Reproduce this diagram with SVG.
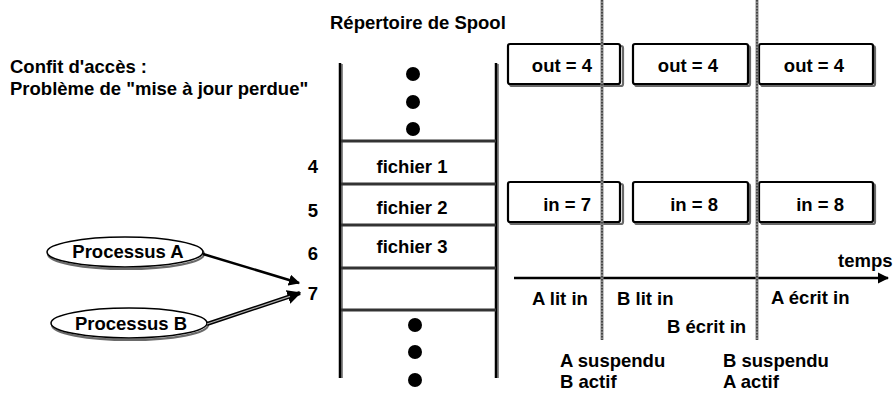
<svg xmlns="http://www.w3.org/2000/svg" width="895" height="394" viewBox="0 0 895 394">
  <style>
    text { font-family: "Liberation Sans", Arial, sans-serif; font-weight: bold; font-size: 18.5px; fill: #000; }
    .mid { text-anchor: middle; }
    .end { text-anchor: end; }
    .box { fill: #fff; stroke: #000; stroke-width: 2.2; }
    .shadow { fill: none; stroke: #6a6a6a; stroke-width: 2.2; }
    .wall { stroke: #000; stroke-width: 2.5; }
    .wallsh { stroke: #8a8a8a; stroke-width: 2; }
    .shelf { stroke: #333; stroke-width: 3; }
    .dot { fill: #000; }
    .tick { stroke: #8a8a8a; stroke-width: 3; }
    .tickdot { stroke: #333; stroke-width: 1.5; stroke-dasharray: 1.5 1.5; }
  </style>
  <defs>
    <marker id="head" viewBox="0 0 10 10" refX="9" refY="5" markerWidth="4.5" markerHeight="4.5" markerUnits="strokeWidth" orient="auto">
      <path d="M0,0 L10,5 L0,10 z" fill="#000"/>
    </marker>
    <marker id="headB" viewBox="0 0 10 10" refX="9" refY="5" markerWidth="3.5" markerHeight="3.5" markerUnits="strokeWidth" orient="auto">
      <path d="M0,0 L10,5 L0,10 z" fill="#000"/>
    </marker>
  </defs>

  <!-- headings -->
  <g id="title">
    <text x="10" y="73">Confit d'accès :</text>
    <text x="10" y="95">Problème de "mise à jour perdue"</text>
  </g>
  <text id="spool-title" x="330" y="29">Répertoire de Spool</text>

  <!-- spool directory -->
  <g id="spool">
    <line class="wallsh" x1="342" y1="64" x2="342" y2="378"/>
    <line class="wall" x1="340" y1="63" x2="340" y2="378"/>
    <line class="wallsh" x1="498" y1="64" x2="498" y2="378"/>
    <line class="wall" x1="496" y1="63" x2="496" y2="378"/>
    <line class="shelf" x1="341" y1="141" x2="496" y2="141"/>
    <line class="shelf" x1="341" y1="184" x2="496" y2="184"/>
    <line class="shelf" x1="341" y1="225" x2="496" y2="225"/>
    <line class="shelf" x1="341" y1="268" x2="496" y2="268"/>
    <line class="shelf" x1="341" y1="310" x2="496" y2="310"/>
    <circle class="dot" cx="413" cy="74" r="7"/>
    <circle class="dot" cx="413" cy="102" r="7"/>
    <circle class="dot" cx="413" cy="129" r="7"/>
    <circle class="dot" cx="415" cy="325" r="7"/>
    <circle class="dot" cx="415" cy="352" r="7"/>
    <circle class="dot" cx="415" cy="380" r="7"/>
    <text class="mid" x="412" y="173">fichier 1</text>
    <text class="mid" x="412" y="214">fichier 2</text>
    <text class="mid" x="412" y="253">fichier 3</text>
    <text class="mid" x="313" y="173">4</text>
    <text class="mid" x="313" y="217">5</text>
    <text class="mid" x="313" y="260">6</text>
    <text class="mid" x="313" y="300">7</text>
  </g>

  <!-- processes -->
  <g id="procA">
    <ellipse class="shadow" cx="126" cy="254" rx="78" ry="15"/>
    <ellipse cx="125" cy="252" rx="78" ry="15" fill="#fff" stroke="#000" stroke-width="1.5"/>
    <text class="mid" x="128" y="258">Processus A</text>
  </g>
  <g id="procB">
    <ellipse class="shadow" cx="130" cy="325" rx="78" ry="15"/>
    <ellipse cx="129" cy="323" rx="78" ry="15" fill="#fff" stroke="#000" stroke-width="1.5"/>
    <text class="mid" x="131" y="330">Processus B</text>
  </g>

  <!-- counters -->
  <g id="out1"><rect class="shadow" x="510" y="46" width="113" height="40" rx="2"/><rect class="box" x="508" y="44" width="112" height="40" rx="2"/><text class="end" x="592" y="72">out = 4</text></g>
  <g id="out2"><rect class="shadow" x="635" y="46" width="115" height="40" rx="2"/><rect class="box" x="633" y="44" width="115" height="40" rx="2"/><text class="end" x="718" y="72">out = 4</text></g>
  <g id="out3"><rect class="shadow" x="761" y="46" width="114" height="40" rx="2"/><rect class="box" x="759" y="44" width="114" height="40" rx="2"/><text class="end" x="844" y="72">out = 4</text></g>
  <g id="in1"><rect class="shadow" x="510" y="184" width="113" height="40" rx="2"/><rect class="box" x="508" y="182" width="112" height="40" rx="2"/><text class="end" x="591" y="211">in = 7</text></g>
  <g id="in2"><rect class="shadow" x="635" y="184" width="115" height="40" rx="2"/><rect class="box" x="633" y="182" width="115" height="40" rx="2"/><text class="end" x="718" y="211">in = 8</text></g>
  <g id="in3"><rect class="shadow" x="761" y="184" width="114" height="40" rx="2"/><rect class="box" x="759" y="182" width="114" height="40" rx="2"/><text class="end" x="844" y="211">in = 8</text></g>

  <!-- connectors and time axis -->
  <g id="connectors">
    <line x1="203" y1="254" x2="299" y2="283" stroke="#000" stroke-width="2.5" marker-end="url(#head)"/>
    <line x1="207" y1="324" x2="300" y2="293" stroke="#000" stroke-width="4" marker-end="url(#headB)"/>
    <line x1="207" y1="324" x2="290" y2="296.3" stroke="#aaa" stroke-width="1.3"/>
    <line x1="514" y1="278" x2="888" y2="278" stroke="#000" stroke-width="2.5" marker-end="url(#head)"/>
    <line class="tick" x1="602" y1="0" x2="602" y2="340"/>
    <line class="tickdot" x1="602" y1="0" x2="602" y2="340"/>
    <line class="tick" x1="757" y1="0" x2="757" y2="340"/>
    <line class="tickdot" x1="757" y1="0" x2="757" y2="340"/>
  </g>

  <!-- timeline labels -->
  <g id="timeline-labels">
    <text x="838" y="267">temps</text>
    <text x="532" y="305">A lit in</text>
    <text x="617" y="305">B lit in</text>
    <text x="771" y="304">A écrit in</text>
    <text x="667" y="333">B écrit in</text>
    <text x="560" y="367">A suspendu</text>
    <text x="560" y="388">B actif</text>
    <text x="723" y="367">B suspendu</text>
    <text x="723" y="388">A actif</text>
  </g>
</svg>
